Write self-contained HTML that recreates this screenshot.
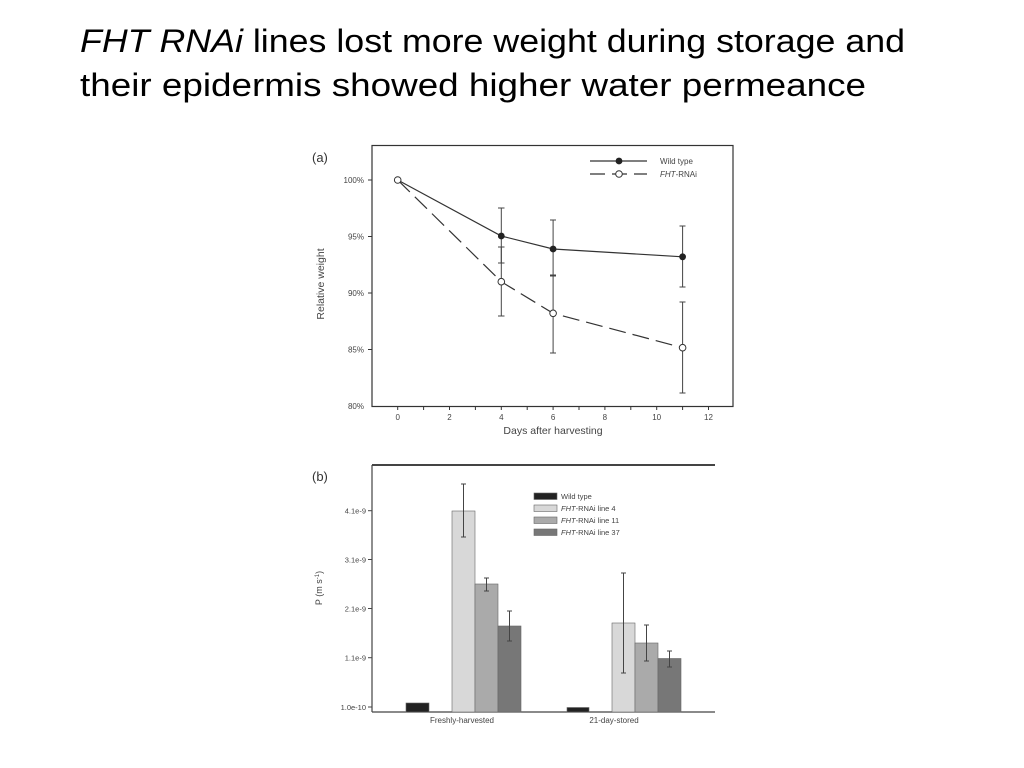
<!DOCTYPE html>
<html><head><meta charset="utf-8"><style>
html,body{margin:0;padding:0;background:#fff;}
svg{display:block;}
</style></head><body>
<svg width="1024" height="768" viewBox="0 0 1024 768" xmlns="http://www.w3.org/2000/svg" font-family="Liberation Sans, sans-serif">
<rect width="1024" height="768" fill="#fff"/>
<text x="80" y="52" font-size="32" fill="#000" textLength="825" lengthAdjust="spacingAndGlyphs"><tspan font-style="italic">FHT RNAi</tspan> lines lost more weight during storage and</text>
<text x="80" y="96" font-size="32" fill="#000" textLength="786" lengthAdjust="spacingAndGlyphs">their epidermis showed higher water permeance</text>

<!-- Chart a -->
<g stroke="#333" fill="none" stroke-width="1.2">
<rect x="372" y="145.5" width="361" height="261"/>
</g>
<text x="312" y="162" font-size="13" fill="#333">(a)</text>
<g font-size="8" fill="#444" text-anchor="end">
<text x="364" y="183">100%</text><text x="364" y="239.5">95%</text><text x="364" y="296">90%</text><text x="364" y="352.5">85%</text><text x="364" y="409">80%</text>
</g>
<g stroke="#333" stroke-width="1">
<line x1="368" y1="180" x2="372" y2="180"/><line x1="368" y1="236.5" x2="372" y2="236.5"/><line x1="368" y1="293" x2="372" y2="293"/><line x1="368" y1="349.5" x2="372" y2="349.5"/>
<line x1="397.7" y1="406" x2="397.7" y2="410"/><line x1="423.6" y1="406" x2="423.6" y2="410"/><line x1="449.5" y1="406" x2="449.5" y2="410"/><line x1="475.4" y1="406" x2="475.4" y2="410"/><line x1="501.3" y1="406" x2="501.3" y2="410"/><line x1="527.2" y1="406" x2="527.2" y2="410"/><line x1="553.1" y1="406" x2="553.1" y2="410"/><line x1="579" y1="406" x2="579" y2="410"/><line x1="604.9" y1="406" x2="604.9" y2="410"/><line x1="630.8" y1="406" x2="630.8" y2="410"/><line x1="656.7" y1="406" x2="656.7" y2="410"/><line x1="682.6" y1="406" x2="682.6" y2="410"/><line x1="708.5" y1="406" x2="708.5" y2="410"/>
</g>
<g font-size="8" fill="#444" text-anchor="middle">
<text x="397.7" y="420">0</text><text x="449.5" y="420">2</text><text x="501.3" y="420">4</text><text x="553.1" y="420">6</text><text x="604.9" y="420">8</text><text x="656.7" y="420">10</text><text x="708.5" y="420">12</text>
</g>
<text x="553" y="434" font-size="10.5" fill="#444" text-anchor="middle">Days after harvesting</text>
<text transform="translate(324,284) rotate(-90)" font-size="10.5" fill="#444" text-anchor="middle">Relative weight</text>
<!-- error bars -->
<g stroke="#444" stroke-width="1">
<line x1="501.3" y1="208" x2="501.3" y2="263"/><line x1="498" y1="208" x2="504.5" y2="208"/><line x1="498" y1="263" x2="504.5" y2="263"/>
<line x1="553.1" y1="220" x2="553.1" y2="276"/><line x1="550" y1="220" x2="556" y2="220"/><line x1="550" y1="276" x2="556" y2="276"/>
<line x1="682.6" y1="226" x2="682.6" y2="287"/><line x1="679.5" y1="226" x2="685.5" y2="226"/><line x1="679.5" y1="287" x2="685.5" y2="287"/>
<line x1="501.3" y1="247" x2="501.3" y2="316"/><line x1="498" y1="247" x2="504.5" y2="247"/><line x1="498" y1="316" x2="504.5" y2="316"/>
<line x1="553.1" y1="275" x2="553.1" y2="353"/><line x1="550" y1="275" x2="556" y2="275"/><line x1="550" y1="353" x2="556" y2="353"/>
<line x1="682.6" y1="302" x2="682.6" y2="393"/><line x1="679.5" y1="302" x2="685.5" y2="302"/><line x1="679.5" y1="393" x2="685.5" y2="393"/>
</g>
<polyline points="397.7,180 501.3,236 553.1,249 682.6,256.8" fill="none" stroke="#333" stroke-width="1.2"/>
<polyline points="397.7,180 501.3,281.7 553.1,313.3 682.6,347.7" fill="none" stroke="#333" stroke-width="1.2" stroke-dasharray="17,7"/>
<g fill="#222"><circle cx="501.3" cy="236" r="3.4"/><circle cx="553.1" cy="249" r="3.4"/><circle cx="682.6" cy="256.8" r="3.4"/></g>
<g fill="#fff" stroke="#333" stroke-width="1"><circle cx="397.7" cy="180" r="3.3"/><circle cx="501.3" cy="281.7" r="3.3"/><circle cx="553.1" cy="313.3" r="3.3"/><circle cx="682.6" cy="347.7" r="3.3"/></g>
<line x1="590" y1="161" x2="647" y2="161" stroke="#333" stroke-width="1.2"/>
<circle cx="619" cy="161" r="3.4" fill="#222"/>
<line x1="590" y1="174" x2="647" y2="174" stroke="#333" stroke-width="1.2" stroke-dasharray="15,7"/>
<circle cx="619" cy="174" r="3.3" fill="#fff" stroke="#333"/>
<text x="660" y="164" font-size="8" fill="#444">Wild type</text>
<text x="660" y="177" font-size="8" fill="#444"><tspan font-style="italic">FHT</tspan>-RNAi</text>

<!-- Chart b -->
<text x="312" y="481" font-size="13" fill="#333">(b)</text>
<line x1="372" y1="465" x2="715" y2="465" stroke="#444" stroke-width="2"/>
<line x1="372" y1="465" x2="372" y2="712" stroke="#444" stroke-width="1.2"/>
<line x1="372" y1="712" x2="715" y2="712" stroke="#444" stroke-width="1.2"/>
<g stroke="#444"><line x1="368" y1="510.7" x2="372" y2="510.7"/><line x1="368" y1="559.5" x2="372" y2="559.5"/><line x1="368" y1="608.5" x2="372" y2="608.5"/><line x1="368" y1="657.7" x2="372" y2="657.7"/><line x1="368" y1="707" x2="372" y2="707"/></g>
<g font-size="7.5" fill="#444" text-anchor="end">
<text x="366" y="513.5">4.1e-9</text><text x="366" y="562.5">3.1e-9</text><text x="366" y="611.5">2.1e-9</text><text x="366" y="660.5">1.1e-9</text><text x="366" y="710">1.0e-10</text>
</g>
<text transform="translate(322,588) rotate(-90)" font-size="9" fill="#444" text-anchor="middle">P (m s<tspan dy="-3" font-size="6">-1</tspan><tspan dy="3">)</tspan></text>
<g stroke="#666" stroke-width="0.6">
<rect x="406" y="703" width="23" height="9" fill="#222"/>
<rect x="452" y="511" width="23" height="201" fill="#d8d8d8"/>
<rect x="475" y="584" width="23" height="128" fill="#aaaaaa"/>
<rect x="498" y="626" width="23" height="86" fill="#777777"/>
<rect x="567" y="707.5" width="22" height="4.5" fill="#222"/>
<rect x="612" y="623" width="23" height="89" fill="#d8d8d8"/>
<rect x="635" y="643" width="23" height="69" fill="#aaaaaa"/>
<rect x="658" y="658.5" width="23" height="53.5" fill="#777777"/>
</g>
<g stroke="#444" stroke-width="1">
<line x1="463.5" y1="484" x2="463.5" y2="537"/><line x1="461" y1="484" x2="466" y2="484"/><line x1="461" y1="537" x2="466" y2="537"/>
<line x1="486.5" y1="578" x2="486.5" y2="591"/><line x1="484" y1="578" x2="489" y2="578"/><line x1="484" y1="591" x2="489" y2="591"/>
<line x1="509.5" y1="611" x2="509.5" y2="641"/><line x1="507" y1="611" x2="512" y2="611"/><line x1="507" y1="641" x2="512" y2="641"/>
<line x1="623.5" y1="573" x2="623.5" y2="673"/><line x1="621" y1="573" x2="626" y2="573"/><line x1="621" y1="673" x2="626" y2="673"/>
<line x1="646.5" y1="625" x2="646.5" y2="661"/><line x1="644" y1="625" x2="649" y2="625"/><line x1="644" y1="661" x2="649" y2="661"/>
<line x1="669.5" y1="651" x2="669.5" y2="667"/><line x1="667" y1="651" x2="672" y2="651"/><line x1="667" y1="667" x2="672" y2="667"/>
</g>
<g font-size="8" fill="#444" text-anchor="middle"><text x="462" y="723">Freshly-harvested</text><text x="614" y="723">21-day-stored</text></g>
<g stroke="#666" stroke-width="0.6">
<rect x="534" y="493" width="23" height="6.5" fill="#222"/>
<rect x="534" y="505" width="23" height="6.5" fill="#d8d8d8"/>
<rect x="534" y="517" width="23" height="6.5" fill="#aaaaaa"/>
<rect x="534" y="529" width="23" height="6.5" fill="#777777"/>
</g>
<g font-size="7.5" fill="#444">
<text x="561" y="499">Wild type</text>
<text x="561" y="511"><tspan font-style="italic">FHT</tspan>-RNAi line 4</text>
<text x="561" y="523"><tspan font-style="italic">FHT</tspan>-RNAi line 11</text>
<text x="561" y="535"><tspan font-style="italic">FHT</tspan>-RNAi line 37</text>
</g>
</svg>
</body></html>
